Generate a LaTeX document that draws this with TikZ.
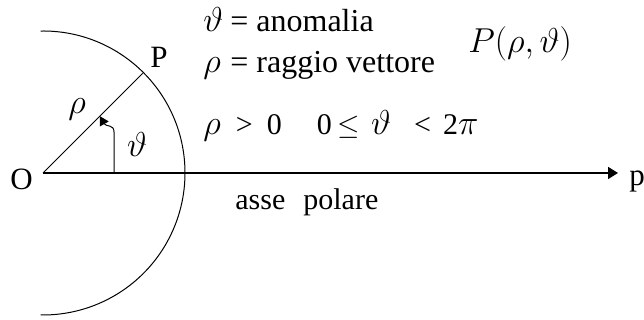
\documentclass[tikz,border=0pt]{standalone}
\usepackage{fontspec}
\setmainfont{Liberation Serif}
\usetikzlibrary{arrows.meta,calc}
\newcommand{\grk}[1]{{\fontsize{16}{18}\selectfont$#1$}}

\begin{document}
\begin{tikzpicture}[x=0.5pt, y=0.5pt,
    lbl/.style={inner sep=0pt, font=\fontsize{15.5}{18}\selectfont},
    txt/.style={inner sep=0pt, font=\fontsize{16}{18}\selectfont},
    line/.style={line width=0.5pt},
    arrow/.style={-{Triangle[length=5pt, width=6pt]}, line width=0.5pt}]

    \useasboundingbox (0,0) rectangle (644,320);

    % punti
    \coordinate (O) at (43,147);
    \coordinate (p) at (618,147);
    \coordinate (P) at ($(O)+(45:141)$);
    \coordinate (A) at (114,147);
    \coordinate (T) at ($(O)!0.57!(P)$);

    % assi e arco
    \draw[arrow, line width=0.8pt] (O) -- (p);
    \draw[line] (O) -- (P);
    \draw[line] (O) ++(91:142) arc[start angle=91, end angle=-91, radius=142];
    \draw[arrow, -{Triangle[length=4.5pt, width=5pt]}] (A) -- (114,188)
        .. controls (114,196) and (106,193) .. (T);

    % etichette
    \node[lbl, anchor=base] (lO) at (21.5,130) {O};
    \node[lbl, anchor=base west] (lP) at (150,252) {P};
    \node[inner sep=0pt, font=\fontsize{17}{19}\selectfont] (lrho) at (77,211) {$\rho$};
    \node[inner sep=0pt, font=\fontsize{17}{19}\selectfont] (ltheta) at (137,175) {$\vartheta$};
    \node[lbl, anchor=base west] (lp) at (629,134) {p};
    \node[inner sep=0pt, font=\fontsize{15}{17}\selectfont, anchor=base west] (asse)
        at (235,110) {asse\hspace{0.6em}polare};

    % testo
    \node[txt, anchor=base west] (anom) at (203,288)
        {\makebox[9.5pt][l]{\grk{\vartheta}} = anomalia};
    \node[txt, anchor=base west] (ragg) at (203,247)
        {\makebox[9.5pt][l]{\grk{\rho}} = raggio vettore};
    \node[inner sep=0pt, font=\fontsize{16}{18}\selectfont, anchor=base west] (coord)
        at (468,267) {$P\bigl(\rho,\vartheta\bigr)$};
    \node[inner sep=0pt, font=\fontsize{15}{18}\selectfont, anchor=base west] (cond) at (203,185)
        {\grk{\rho}\hspace{7.5pt}>\hspace{7pt}0\hspace{17.5pt}0\hspace{3pt}$\le$\hspace{5.5pt}\grk{\vartheta}\hspace{11.5pt}<\hspace{6pt}2\grk{\pi}};
\end{tikzpicture}
\end{document}
